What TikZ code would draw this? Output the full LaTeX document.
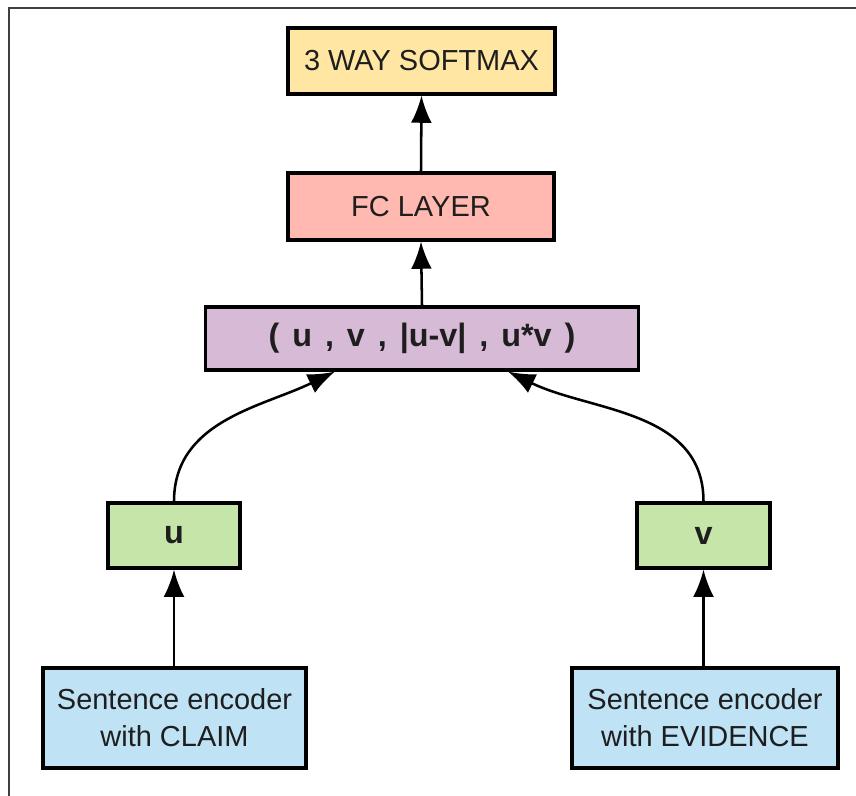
\documentclass[tikz,border=0pt]{standalone}
\usepackage{fontspec}
\setmainfont{Liberation Sans}
\usetikzlibrary{arrows.meta,calc}
\definecolor{cyellow}{RGB}{255,230,163}
\definecolor{cpink}{RGB}{255,185,176}
\definecolor{cpurple}{RGB}{214,186,214}
\definecolor{cgreen}{RGB}{198,229,168}
\definecolor{cblue}{RGB}{191,226,245}
\definecolor{ctext}{RGB}{30,30,30}
\tikzset{
  box/.style={draw=black, line width=2.2pt, inner sep=0pt, align=center, text=ctext,
    font=\fontsize{20.6}{26.5}\selectfont},
  conn/.style={line width=1.8pt, -{Latex[length=0.68cm,width=0.52cm]}},
  frameline/.style={line width=2pt, draw=black!75}
}
\begin{document}
\begin{tikzpicture}[x=0.025cm,y=-0.025cm]
\useasboundingbox (0,0) rectangle (856,796);
\draw[frameline] (856,8) -- (9,8) -- (9,796);
\node[box, fill=cyellow, minimum width=6.675cm, minimum height=1.65cm] (soft) at (421.5,61) {3 WAY SOFTMAX};
\node[box, fill=cpink, minimum width=6.65cm, minimum height=1.675cm] (fc) at (421,206.5) {FC LAYER};
\node[box, fill=cpurple, minimum width=10.8cm, minimum height=1.575cm, font=\fontsize{23}{26}\selectfont\bfseries] (comb) at (422,338.5) {\spaceskip=0.4em\relax( u , v , |u-v| , u*v )};
\node[box, fill=cgreen, minimum width=3.3cm, minimum height=1.625cm, font=\fontsize{23}{26}\selectfont\bfseries] (u) at (174,535.5) {u};
\node[box, fill=cgreen, minimum width=3.325cm, minimum height=1.625cm, font=\fontsize{23}{26}\selectfont\bfseries] (v) at (703.5,535.5) {v};
\node[box, fill=cblue, minimum width=6.575cm, minimum height=2.5cm] (claim) at (174.5,718) {Sentence encoder\\with CLAIM};
\node[box, fill=cblue, minimum width=6.65cm, minimum height=2.5cm] (evid) at (705,718) {Sentence encoder\\with EVIDENCE};
\coordinate (cl) at ($(comb.south)+(-87,0)$);
\coordinate (cr) at ($(comb.south)+(86,0)$);
\draw[conn] (fc.north) -- (soft.south);
\draw[conn] (comb.north) -- (fc.south);
\draw[conn] (u.north) to[out=90,in=206] (cl);
\draw[conn] (v.north) to[out=90,in=-26] (cr);
\draw[conn] (claim.north -| u.north) -- (u.south);
\draw[conn] (evid.north -| v.north) -- (v.south);
\end{tikzpicture}
\end{document}
